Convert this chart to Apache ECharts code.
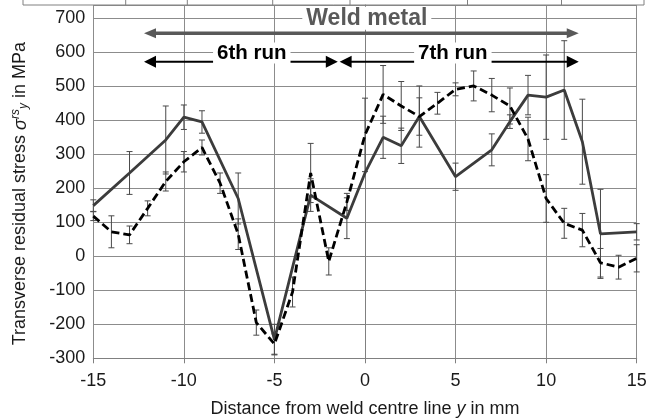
<!DOCTYPE html>
<html><head><meta charset="utf-8">
<script src="https://cdn.jsdelivr.net/npm/echarts@6/dist/echarts.min.js"></script>
<style>html,body{margin:0;padding:0;background:#fff}#c{width:662px;height:419px}</style>
</head><body><div id="c"></div>
<script>
// ---- data ----
const xTicks = [-15, -10, -5, 0, 5, 10, 15];
const yTicks = [-300, -200, -100, 0, 100, 200, 300, 400, 500, 600, 700];

const solidX   = [-15, -13, -11, -10, -9, -7, -5, -3, -1, 0, 1, 2, 3, 5, 7, 8, 9, 10, 11, 12, 13, 15];
const solidY   = [149, 245, 342, 409, 395, 170, -245, 180, 112, 245, 350, 325, 411, 234, 313, 396, 474, 468, 489, 337, 66, 72];
const solidErr = [17, 63, 100, 36, 33, 75, 45, 48, 60, 0, 62, 52, 90, 40, 47, 20, 58, 124, 145, 125, 131, 24];

const dashX   = [-15, -14, -13, -12, -11, -10, -9, -8, -7, -6, -5, -4, -3, -2, -1, 0, 1, 2, 3, 4, 5, 6, 7, 8, 9, 10, 11, 12, 13, 14, 15];
const dashY   = [118, 72, 63, 141, 220, 278, 320, 215, 65, -195, -258, -105, 245, -15, 160, 357, 476, 442, 411, 450, 491, 501, 474, 442, 345, 170, 97, 77, -19, -32, -6];
const dashErr = [13, 47, 26, 22, 28, 30, 22, 30, 45, 37, 30, 44, 87, 40, 25, 108, 85, 72, 55, 32, 19, 44, 49, 53, 64, 70, 44, 49, 42, 35, 40];

// annotation anchors (data coordinates)
const weldArrow = {y: 656, from: -12.2, to: 11.8};
const runArrows = [{y: 572, from: -12.2, to: -1.5}, {y: 572, from: -1.4, to: 11.8}];
const labels = [
  {text: 'Weld metal', x: 0.1, y: 700, color: '#595959', size: 23},
  {text: '6th run', x: -6.25, y: 598, color: '#000', size: 20.5},
  {text: '7th run', x: 4.85, y: 598, color: '#000', size: 20.5}
];

const FONT = '"Liberation Sans", Arial, sans-serif';
const pairs = (xs, ys) => xs.map((x, i) => [x, ys[i]]);
const errData = (xs, ys, es) => xs.map((x, i) => [x, ys[i] - es[i], ys[i] + es[i]]).filter((d, i) => es[i] > 0);

function errRender(params, api) {
  const x = api.value(0);
  const p1 = api.coord([x, api.value(1)]);
  const p2 = api.coord([x, api.value(2)]);
  const hw = 3;
  const style = {stroke: '#4a4a4a', lineWidth: 1, fill: null};
  return {type: 'group', children: [
    {type: 'line', shape: {x1: p1[0], y1: p1[1], x2: p2[0], y2: p2[1]}, style: style},
    {type: 'line', shape: {x1: p1[0] - hw, y1: p1[1], x2: p1[0] + hw, y2: p1[1]}, style: style},
    {type: 'line', shape: {x1: p2[0] - hw, y1: p2[1], x2: p2[0] + hw, y2: p2[1]}, style: style}
  ]};
}

const chart = echarts.init(document.getElementById('c'), null, {renderer: 'canvas'});
chart.setOption({
  animation: false,
  backgroundColor: '#fff',
  grid: {left: 93.3, right: 25.3, top: 5, bottom: 60.7, containLabel: false, outerBoundsMode: 'none'},
  xAxis: {
    type: 'value', min: xTicks[0], max: xTicks[xTicks.length - 1], interval: 5,
    axisLine: {show: true, onZero: false, lineStyle: {color: '#808080', width: 1}},
    axisTick: {show: true, length: 5, lineStyle: {color: '#808080'}},
    axisLabel: {fontFamily: FONT, fontSize: 18, color: '#1a1a1a', margin: 14},
    splitLine: {show: true, lineStyle: {color: '#8c8c8c', width: 1}},
    name: '{a|Distance from weld centre line }{i|y}{a| in mm}',
    nameLocation: 'middle', nameGap: 42,
    nameTextStyle: {rich: {
      a: {fontFamily: FONT, fontSize: 18, color: '#1a1a1a'},
      i: {fontFamily: FONT, fontSize: 18, fontStyle: 'italic', color: '#1a1a1a'}
    }}
  },
  yAxis: {
    type: 'value', min: yTicks[0], max: 739, interval: 100,
    axisLine: {show: true, lineStyle: {color: '#808080', width: 1}},
    axisTick: {show: true, length: 5, lineStyle: {color: '#808080'}},
    axisLabel: {fontFamily: FONT, fontSize: 18, color: '#1a1a1a', margin: 8, showMaxLabel: false,
      formatter: v => (yTicks.indexOf(v) >= 0 ? String(v) : '')},
    splitLine: {show: true, lineStyle: {color: '#8c8c8c', width: 1}}
  },
  series: [
    {type: 'custom', name: 'solidErr', renderItem: errRender, data: errData(solidX, solidY, solidErr),
      encode: {x: 0, y: [1, 2]}, z: 2, silent: true},
    {type: 'custom', name: 'dashErr', renderItem: errRender, data: errData(dashX, dashY, dashErr),
      encode: {x: 0, y: [1, 2]}, z: 2, silent: true},
    {type: 'line', name: 'solid', data: pairs(solidX, solidY), showSymbol: false, symbol: 'none',
      lineStyle: {color: '#3c3c3c', width: 2.8}, z: 3},
    {type: 'line', name: 'dashed', data: pairs(dashX, dashY), showSymbol: false, symbol: 'none',
      lineStyle: {color: '#000', width: 2.8, type: [8, 4]}, z: 3}
  ]
});

// ---- annotations positioned through the axes ----
const px = (x, y) => chart.convertToPixel({xAxisIndex: 0, yAxisIndex: 0}, [x, y]);
const g = [];
function arrow(a, color, shaft, headLen, headHalf) {
  const p1 = px(a.from, a.y), p2 = px(a.to, a.y);
  const y = p1[1];
  g.push({type: 'line', z: 50, shape: {x1: p1[0] + headLen - 1, y1: y, x2: p2[0] - headLen + 1, y2: y},
    style: {stroke: color, lineWidth: shaft}});
  g.push({type: 'polygon', z: 50, shape: {points: [[p1[0], y], [p1[0] + headLen, y - headHalf], [p1[0] + headLen, y + headHalf]]},
    style: {fill: color}});
  g.push({type: 'polygon', z: 50, shape: {points: [[p2[0], y], [p2[0] - headLen, y - headHalf], [p2[0] - headLen, y + headHalf]]},
    style: {fill: color}});
}
arrow(weldArrow, '#595959', 3.4, 12, 5);
runArrows.forEach(a => arrow(a, '#000', 2, 12, 6));
labels.forEach(l => {
  const p = px(l.x, l.y);
  g.push({type: 'text', z: 60, x: p[0], y: p[1],
    style: {text: l.text, fontFamily: FONT, fontSize: l.size, fontWeight: 'bold', fill: l.color,
      align: 'center', verticalAlign: 'middle', backgroundColor: '#fff', padding: [0, 4, 0, 4]}});
});
// y-axis title, centred on the plotted value range
const yMid = px(-15, (yTicks[0] + 739) / 2)[1];
g.push({type: 'text', z: 60, x: 20.5, y: yMid + 12, rotation: Math.PI / 2,
  style: {
    text: '{a|Transverse residual stress }{i|σ}{sup|rs}{sub|y}{a| in MPa}',
    align: 'center', verticalAlign: 'middle',
    rich: {
      a: {fontFamily: FONT, fontSize: 18, fill: '#1a1a1a'},
      i: {fontFamily: FONT, fontSize: 18, fontStyle: 'italic', fill: '#1a1a1a'},
      sup: {fontFamily: FONT, fontSize: 12, fontStyle: 'italic', fill: '#1a1a1a', padding: [0, 0, 9, 0]},
      sub: {fontFamily: FONT, fontSize: 12, fontStyle: 'italic', fill: '#1a1a1a', padding: [7, 0, 0, 0]}
    }
  }});
// frame of the neighbouring table at the very top (cropped in the reference)
g.push({type: 'line', z: 40, shape: {x1: 23, y1: 5, x2: 644, y2: 5}, style: {stroke: '#808080', lineWidth: 1}});
[23, 125.7, 187.3, 272.7, 350, 467.5, 561.5, 644].forEach(x => {
  g.push({type: 'line', z: 40, shape: {x1: x, y1: 0, x2: x, y2: 5}, style: {stroke: '#808080', lineWidth: 1}});
});
chart.setOption({graphic: g});
</script>
</body></html>
